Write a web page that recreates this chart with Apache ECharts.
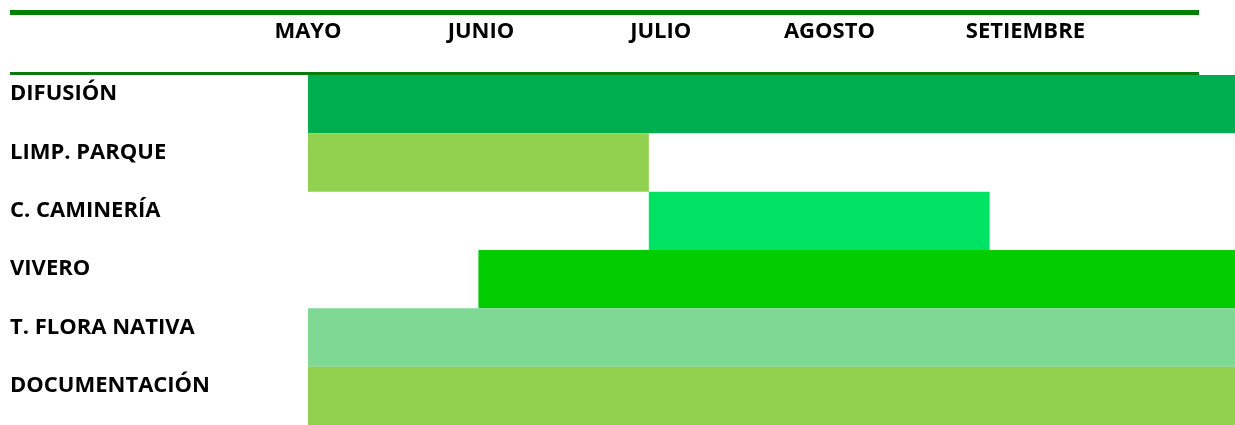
<!DOCTYPE html>
<html>
<head>
<meta charset="utf-8">
<script src="https://cdn.jsdelivr.net/npm/echarts@6/dist/echarts.min.js"></script>
<style>
    html, body { margin: 0; padding: 0; background: #fff; }
    #main { width: 1235px; height: 425px; }
</style>
</head>
<body>
<div id="main"></div>
<script>
// tareas (de arriba hacia abajo)
var tareas = ['DIFUSIÓN', 'LIMP. PARQUE', 'C. CAMINERÍA', 'VIVERO', 'T. FLORA NATIVA', 'DOCUMENTACIÓN'];
// inicio y fin en meses desde el comienzo de mayo
var inicio = [0, 0, 2, 1, 0, 0];
var fin = [5.44, 2, 4, 5.44, 5.44, 5.44];
var colores = ['#00AE50', '#92D050', '#00E264', '#00CC00', '#7FD894', '#92D050'];
// encabezado de meses
var meses = ['MAYO', 'JUNIO', 'JULIO', 'AGOSTO', 'SETIEMBRE'];
var posMeses = [0, 1.015, 2.07, 3.06, 4.21];

var duracion = [];
for (var i = 0; i < tareas.length; i++) {
    duracion.push({
        value: fin[i] - inicio[i],
        itemStyle: { color: colores[i] }
    });
}

var myChart = echarts.init(document.getElementById('main'));
var fuente = '"Open Sans", "Noto Sans", sans-serif';

option = {
    animation: false,
    grid: {
        left: 308,
        right: 0,
        top: 75,
        bottom: 0
    },
    xAxis: {
        type: 'value',
        position: 'top',
        min: 0,
        max: 5.44,
        splitLine: { show: false },
        axisLine: { show: false },
        axisTick: { show: false },
        axisLabel: {
            customValues: posMeses,
            showMinLabel: true,
            showMaxLabel: true,
            margin: 43,
            verticalAlign: 'middle',
            fontFamily: fuente,
            fontWeight: 'bold',
            fontSize: 22,
            color: '#000',
            formatter: function (v) {
                var idx = posMeses.indexOf(v);
                return idx >= 0 ? meses[idx] : '';
            }
        }
    },
    yAxis: {
        type: 'category',
        inverse: true,
        data: tareas,
        axisLine: { show: false },
        axisTick: { show: false },
        axisLabel: {
            align: 'left',
            margin: 298,
            verticalAlign: 'bottom',
            lineHeight: 20,
            fontFamily: fuente,
            fontWeight: 'bold',
            fontSize: 22,
            color: '#000'
        }
    },
    graphic: [
        {
            type: 'line',
            shape: { x1: 10, y1: 12.5, x2: 1199, y2: 12.5 },
            style: { stroke: '#008000', lineWidth: 5 }
        },
        {
            type: 'line',
            shape: { x1: 10, y1: 73.5, x2: 1199, y2: 73.5 },
            style: { stroke: '#0A7A0A', lineWidth: 3 }
        }
    ],
    series: [
        {
            type: 'bar',
            stack: 'gantt',
            barCategoryGap: '0%',
            itemStyle: { color: 'transparent' },
            silent: true,
            data: inicio
        },
        {
            type: 'bar',
            stack: 'gantt',
            barCategoryGap: '0%',
            data: duracion
        }
    ]
};
myChart.setOption(option);
</script>
</body>
</html>
